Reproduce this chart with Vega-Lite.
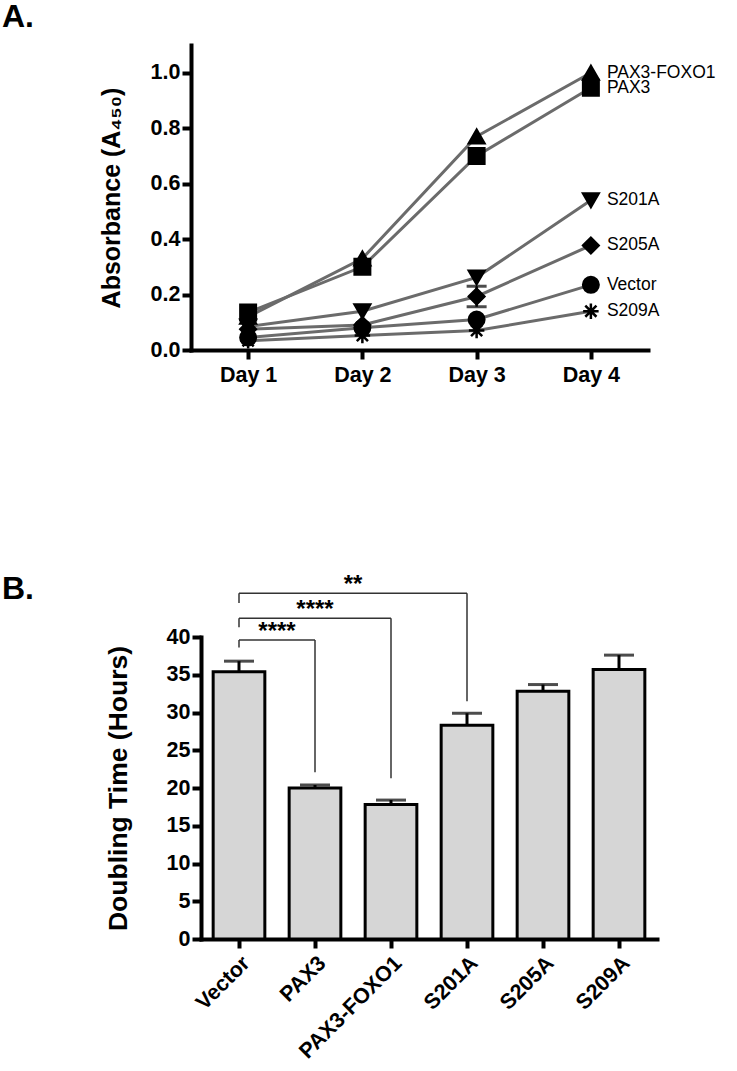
{
  "$schema": "https://vega.github.io/schema/vega-lite/v6.json",
  "background": "white",
  "padding": {"left": 2, "top": 1, "right": 0, "bottom": 0},
  "config": {
    "font": "Liberation Sans",
    "view": {"stroke": null},
    "axis": {
      "domainColor": "black", "domainWidth": 4, "domainCap": "square",
      "tickColor": "black", "tickWidth": 4, "tickSize": 9,
      "labelColor": "black", "labelFontSize": 21.5, "labelFontWeight": "bold", "labelFont": "Liberation Sans",
      "titleColor": "black", "titleFontSize": 24, "titleFontWeight": "bold", "titleFont": "Liberation Sans",
      "grid": false, "labelOverlap": false
    },
    "title": {"fontSize": 32, "fontWeight": "bold", "color": "black", "anchor": "start", "frame": "group", "font": "Liberation Sans"}
  },
  "spacing": 187,
  "vconcat": [
    {
      "width": 457,
      "height": 305,
      "title": {"text": "A.", "dx": -189, "offset": 11},
      "data": {"values": [
        {"series": "PAX3-FOXO1", "day": "Day 1", "value": 0.12},
        {"series": "PAX3-FOXO1", "day": "Day 2", "value": 0.33},
        {"series": "PAX3-FOXO1", "day": "Day 3", "value": 0.77},
        {"series": "PAX3-FOXO1", "day": "Day 4", "value": 1.0},
        {"series": "PAX3", "day": "Day 1", "value": 0.135},
        {"series": "PAX3", "day": "Day 2", "value": 0.30},
        {"series": "PAX3", "day": "Day 3", "value": 0.70},
        {"series": "PAX3", "day": "Day 4", "value": 0.946},
        {"series": "S201A", "day": "Day 1", "value": 0.085},
        {"series": "S201A", "day": "Day 2", "value": 0.14},
        {"series": "S201A", "day": "Day 3", "value": 0.262},
        {"series": "S201A", "day": "Day 4", "value": 0.54},
        {"series": "S205A", "day": "Day 1", "value": 0.075},
        {"series": "S205A", "day": "Day 2", "value": 0.09},
        {"series": "S205A", "day": "Day 3", "value": 0.193},
        {"series": "S205A", "day": "Day 4", "value": 0.377},
        {"series": "Vector", "day": "Day 1", "value": 0.045},
        {"series": "Vector", "day": "Day 2", "value": 0.08},
        {"series": "Vector", "day": "Day 3", "value": 0.11},
        {"series": "Vector", "day": "Day 4", "value": 0.235},
        {"series": "S209A", "day": "Day 1", "value": 0.033},
        {"series": "S209A", "day": "Day 2", "value": 0.052},
        {"series": "S209A", "day": "Day 3", "value": 0.07},
        {"series": "S209A", "day": "Day 4", "value": 0.14}
      ]},
      "encoding": {
        "x": {"field": "day", "type": "ordinal", "scale": {"type": "point", "padding": 0.5},
              "axis": {"title": null, "labelAngle": 0, "labelPadding": 5}}
      },
      "layer": [
        {
          "mark": {"type": "line", "color": "#6b6b6b", "strokeWidth": 3},
          "encoding": {
            "y": {"field": "value", "type": "quantitative", "scale": {"domain": [0, 1.1]},
                  "axis": {"values": [0, 0.2, 0.4, 0.6, 0.8, 1.0], "format": ".1f", "title": "Absorbance (A₄₅₀)", "titlePadding": 26, "titleFontSize": 25}},
            "detail": {"field": "series"}
          }
        },
        {
          "data": {"values": [{"day": "Day 3", "lo": 0.156, "hi": 0.23}]},
          "mark": {"type": "rule", "color": "black", "strokeWidth": 2.5},
          "encoding": {
            "y": {"field": "lo", "type": "quantitative",
                  "axis": {"values": [0, 0.2, 0.4, 0.6, 0.8, 1.0], "format": ".1f", "title": "Absorbance (A₄₅₀)", "titlePadding": 26, "titleFontSize": 25}},
            "y2": {"field": "hi"}
          }
        },
        {
          "data": {"values": [{"day": "Day 3", "cap": 0.156}, {"day": "Day 3", "cap": 0.23}]},
          "mark": {"type": "tick", "color": "black", "thickness": 3, "size": 20},
          "encoding": {
            "y": {"field": "cap", "type": "quantitative",
                  "axis": {"values": [0, 0.2, 0.4, 0.6, 0.8, 1.0], "format": ".1f", "title": "Absorbance (A₄₅₀)", "titlePadding": 26, "titleFontSize": 25}}
          }
        },
        {
          "mark": {"type": "point", "filled": true, "fill": "black", "stroke": "black", "strokeWidth": 2.5, "size": 240, "opacity": 1},
          "encoding": {
            "y": {"field": "value", "type": "quantitative",
                  "axis": {"values": [0, 0.2, 0.4, 0.6, 0.8, 1.0], "format": ".1f", "title": "Absorbance (A₄₅₀)", "titlePadding": 26, "titleFontSize": 25}},
            "shape": {"field": "series", "type": "nominal", "legend": null,
                      "scale": {"domain": ["PAX3-FOXO1", "PAX3", "S201A", "S205A", "Vector", "S209A"],
                                "range": ["triangle-up", "square", "triangle-down", "diamond", "circle", "M0,-1L0,1M-1,0L1,0M-0.72,-0.72L0.72,0.72M-0.72,0.72L0.72,-0.72"]}}
          }
        },
        {
          "transform": [{"filter": "datum.day == 'Day 4'"}],
          "mark": {"type": "text", "align": "left", "baseline": "middle", "dx": 16, "fontSize": 17.5, "color": "black", "fontWeight": "normal"},
          "encoding": {
            "y": {"field": "value", "type": "quantitative",
                  "axis": {"values": [0, 0.2, 0.4, 0.6, 0.8, 1.0], "format": ".1f", "title": "Absorbance (A₄₅₀)", "titlePadding": 26, "titleFontSize": 25}},
            "text": {"field": "series"}
          }
        }
      ]
    },
    {
      "width": 466,
      "height": 302,
      "title": {"text": "B.", "dx": -189, "offset": 10, "dy": 43},
      "data": {"values": [
        {"group": "Vector", "mean": 35.4, "hi": 36.8},
        {"group": "PAX3", "mean": 20.0, "hi": 20.4},
        {"group": "PAX3-FOXO1", "mean": 17.8, "hi": 18.4},
        {"group": "S201A", "mean": 28.3, "hi": 29.9},
        {"group": "S205A", "mean": 32.8, "hi": 33.7},
        {"group": "S209A", "mean": 35.7, "hi": 37.6}
      ]},
      "encoding": {
        "x": {"field": "group", "type": "nominal", "sort": null,
              "scale": {"range": [10, 466], "paddingInner": 0.32, "paddingOuter": 0.16},
              "axis": {"title": null, "labelAngle": -45, "labelPadding": 4}}
      },
      "layer": [
        {
          "mark": {"type": "bar", "fill": "#d6d6d6", "stroke": "black", "strokeWidth": 3},
          "encoding": {
            "y": {"field": "mean", "type": "quantitative", "scale": {"domain": [0, 40]},
                  "axis": {"values": [0, 5, 10, 15, 20, 25, 30, 35, 40], "title": "Doubling Time (Hours)", "titlePadding": 34, "titleFontSize": 26.5, "offset": -10}}
          }
        },
        {
          "mark": {"type": "rule", "color": "black", "strokeWidth": 3},
          "encoding": {
            "y": {"field": "mean", "type": "quantitative",
                  "axis": {"values": [0, 5, 10, 15, 20, 25, 30, 35, 40], "title": "Doubling Time (Hours)", "titlePadding": 34, "titleFontSize": 26.5, "offset": -10}},
            "y2": {"field": "hi"}
          }
        },
        {
          "mark": {"type": "tick", "color": "black", "thickness": 3, "size": 30},
          "encoding": {
            "y": {"field": "hi", "type": "quantitative",
                  "axis": {"values": [0, 5, 10, 15, 20, 25, 30, 35, 40], "title": "Doubling Time (Hours)", "titlePadding": 34, "titleFontSize": 26.5, "offset": -10}}
          }
        },
        {
          "data": {"name": "brackets", "values": [
            {"a": "Vector", "b": "PAX3", "level": 39.6, "leftLow": 38.6, "rightLow": 22.1},
            {"a": "Vector", "b": "PAX3-FOXO1", "level": 42.5, "leftLow": 41.3, "rightLow": 21.3},
            {"a": "Vector", "b": "S201A", "level": 45.8, "leftLow": 44.5, "rightLow": 31.5}
          ]},
          "layer": [
            {
              "mark": {"type": "rule", "color": "#333333", "strokeWidth": 1.5},
              "encoding": {
                "x": {"field": "a", "type": "nominal", "bandPosition": 0.5},
                "x2": {"field": "b"},
                "y": {"field": "level", "type": "quantitative",
                      "axis": {"values": [0, 5, 10, 15, 20, 25, 30, 35, 40], "title": "Doubling Time (Hours)", "titlePadding": 34, "titleFontSize": 26.5, "offset": -10}}
              }
            },
            {
              "mark": {"type": "rule", "color": "#333333", "strokeWidth": 1.5},
              "encoding": {
                "x": {"field": "a", "type": "nominal", "bandPosition": 0.5},
                "y": {"field": "leftLow", "type": "quantitative",
                      "axis": {"values": [0, 5, 10, 15, 20, 25, 30, 35, 40], "title": "Doubling Time (Hours)", "titlePadding": 34, "titleFontSize": 26.5, "offset": -10}},
                "y2": {"field": "level"}
              }
            },
            {
              "mark": {"type": "rule", "color": "#333333", "strokeWidth": 1.5},
              "encoding": {
                "x": {"field": "b", "type": "nominal", "bandPosition": 0.5},
                "y": {"field": "rightLow", "type": "quantitative",
                      "axis": {"values": [0, 5, 10, 15, 20, 25, 30, 35, 40], "title": "Doubling Time (Hours)", "titlePadding": 34, "titleFontSize": 26.5, "offset": -10}},
                "y2": {"field": "level"}
              }
            }
          ]
        },
        {
          "data": {"values": [{"a": "Vector", "level": 39.6, "stars": "****"}]},
          "mark": {"type": "text", "fontSize": 24, "fontWeight": "bold", "baseline": "alphabetic", "align": "center", "dy": -1, "color": "black"},
          "encoding": {
            "x": {"field": "a", "type": "nominal", "bandPosition": 1.235},
            "y": {"field": "level", "type": "quantitative",
                  "axis": {"values": [0, 5, 10, 15, 20, 25, 30, 35, 40], "title": "Doubling Time (Hours)", "titlePadding": 34, "titleFontSize": 26.5, "offset": -10}},
            "text": {"field": "stars"}
          }
        },
        {
          "data": {"values": [{"a": "Vector", "level": 42.5, "stars": "****"}]},
          "mark": {"type": "text", "fontSize": 24, "fontWeight": "bold", "baseline": "alphabetic", "align": "center", "dy": -1, "color": "black"},
          "encoding": {
            "x": {"field": "a", "type": "nominal", "bandPosition": 1.971},
            "y": {"field": "level", "type": "quantitative",
                  "axis": {"values": [0, 5, 10, 15, 20, 25, 30, 35, 40], "title": "Doubling Time (Hours)", "titlePadding": 34, "titleFontSize": 26.5, "offset": -10}},
            "text": {"field": "stars"}
          }
        },
        {
          "data": {"values": [{"a": "Vector", "level": 45.8, "stars": "**"}]},
          "mark": {"type": "text", "fontSize": 24, "fontWeight": "bold", "baseline": "alphabetic", "align": "center", "dy": -1, "color": "black"},
          "encoding": {
            "x": {"field": "a", "type": "nominal", "bandPosition": 2.706},
            "y": {"field": "level", "type": "quantitative",
                  "axis": {"values": [0, 5, 10, 15, 20, 25, 30, 35, 40], "title": "Doubling Time (Hours)", "titlePadding": 34, "titleFontSize": 26.5, "offset": -10}},
            "text": {"field": "stars"}
          }
        }
      ]
    }
  ]
}
